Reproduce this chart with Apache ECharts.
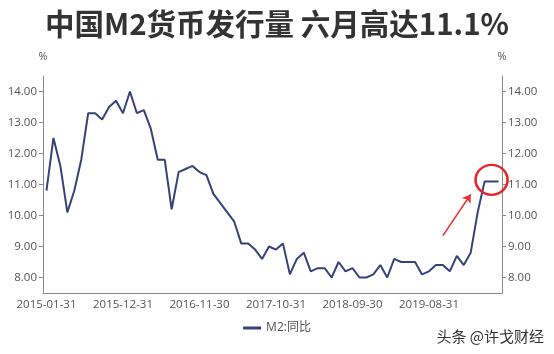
<!DOCTYPE html>
<html>
<head>
<meta charset="utf-8">
<script src="https://cdn.jsdelivr.net/npm/echarts@6/dist/echarts.min.js"></script>
<style>
  html, body { margin: 0; padding: 0; background: #fff; }
  #chart { width: 554px; height: 354px; }
</style>
</head>
<body>
<div id="chart"></div>
<script>
// 月末日期
const months = [
  '2015-01-31', '2015-02-28', '2015-03-31', '2015-04-30', '2015-05-31', '2015-06-30',
  '2015-07-31', '2015-08-31', '2015-09-30', '2015-10-31', '2015-11-30', '2015-12-31',
  '2016-01-31', '2016-02-29', '2016-03-31', '2016-04-30', '2016-05-31', '2016-06-30',
  '2016-07-31', '2016-08-31', '2016-09-30', '2016-10-31', '2016-11-30', '2016-12-31',
  '2017-01-31', '2017-02-28', '2017-03-31', '2017-04-30', '2017-05-31', '2017-06-30',
  '2017-07-31', '2017-08-31', '2017-09-30', '2017-10-31', '2017-11-30', '2017-12-31',
  '2018-01-31', '2018-02-28', '2018-03-31', '2018-04-30', '2018-05-31', '2018-06-30',
  '2018-07-31', '2018-08-31', '2018-09-30', '2018-10-31', '2018-11-30', '2018-12-31',
  '2019-01-31', '2019-02-28', '2019-03-31', '2019-04-30', '2019-05-31', '2019-06-30',
  '2019-07-31', '2019-08-31', '2019-09-30', '2019-10-31', '2019-11-30', '2019-12-31',
  '2020-01-31', '2020-02-29', '2020-03-31', '2020-04-30', '2020-05-31', '2020-06-30',
]

// M2 同比 (%)
const m2Yoy = [
  10.8, 12.5, 11.6, 10.1, 10.8, 11.8, 13.3, 13.3, 13.1, 13.5, 13.7, 13.3,
  14.0, 13.3, 13.4, 12.8, 11.8, 11.8, 10.2, 11.4, 11.5, 11.6, 11.4, 11.3,
  10.7, 10.4, 10.1, 9.8, 9.1, 9.1, 8.9, 8.6, 9.0, 8.9, 9.1, 8.1,
  8.6, 8.8, 8.2, 8.3, 8.3, 8.0, 8.5, 8.2, 8.3, 8.0, 8.0, 8.1,
  8.4, 8.0, 8.6, 8.5, 8.5, 8.5, 8.1, 8.2, 8.4, 8.4, 8.2, 8.7,
  8.4, 8.8, 10.1, 11.1, 11.1, 11.1,
]

const yTicks = [8, 9, 10, 11, 12, 13, 14]

// 标注：红圈 + 箭头
const circleAt = ['2020-05-31', 11.15]
const arrowFrom = ['2019-10-31', 9.35]
const arrowTo = ['2020-02-29', 10.68]

const axisColor = '#8a8a8a'
const labelColor = '#555'
const fontFamily = '"Open Sans", "Noto Sans CJK SC", sans-serif'

function yAxisOption(position) {
  return {
    type: 'value',
    position,
    name: '%',
    nameLocation: 'end',
    nameGap: 14,
    nameTextStyle: { color: labelColor, fontSize: 11, fontFamily },
    min: 7.5,
    max: 14.5,
    splitLine: { show: false },
    axisLine: { show: true, lineStyle: { color: axisColor } },
    axisTick: { show: true, length: 4, customValues: yTicks, lineStyle: { color: axisColor } },
    axisLabel: {
      customValues: yTicks,
      color: labelColor,
      fontSize: 11.5,
      fontFamily,
      margin: 6,
      formatter: v => v.toFixed(2),
    },
  }
}

const chart = echarts.init(document.getElementById('chart'), null, { renderer: 'canvas' })

chart.setOption({
  animation: false,
  title: {
    text: '中国M2货币发行量 六月高达11.1%',
    left: 'center',
    top: 4,
    textStyle: {
      color: '#333',
      fontSize: 29.5,
      fontWeight: 'bold',
      fontFamily: '"Noto Sans CJK SC", sans-serif',
    },
  },
  grid: { left: 43, right: 52, top: 76, bottom: 61 },
  legend: {
    bottom: 15,
    left: 'center',
    icon: 'rect',
    itemWidth: 18,
    itemHeight: 3,
    textStyle: { color: labelColor, fontSize: 12, fontFamily },
  },
  xAxis: {
    type: 'category',
    data: months,
    boundaryGap: true,
    axisLine: { lineStyle: { color: axisColor } },
    axisTick: { alignWithLabel: true, interval: 10, length: 4, lineStyle: { color: axisColor } },
    axisLabel: { interval: 10, color: labelColor, fontSize: 11.5, fontFamily, margin: 6 },
  },
  yAxis: [yAxisOption('left'), yAxisOption('right')],
  graphic: [
    {
      type: 'text',
      right: 10,
      bottom: 10,
      style: {
        text: '头条 @许戈财经',
        fill: '#333',
        fontSize: 15,
        fontFamily: '"Noto Sans CJK SC", sans-serif',
      },
    },
  ],
  series: [
    {
      name: 'M2:同比',
      type: 'line',
      data: m2Yoy,
      symbol: 'none',
      lineStyle: { color: '#35437a', width: 2 },
      itemStyle: { color: '#35437a' },
      markPoint: {
        silent: true,
        symbol: 'circle',
        symbolSize: [32, 30],
        label: { show: false },
        itemStyle: { color: 'rgba(0,0,0,0)', borderColor: '#e8262a', borderWidth: 2.5 },
        data: [{ coord: circleAt }],
      },
      markLine: {
        silent: true,
        symbol: ['none', 'arrow'],
        symbolSize: 8,
        label: { show: false },
        lineStyle: { color: '#e8302e', width: 1.6, type: 'solid' },
        data: [[{ coord: arrowFrom }, { coord: arrowTo }]],
      },
    },
  ],
})

window.addEventListener('resize', () => chart.resize())
</script>
</body>
</html>
